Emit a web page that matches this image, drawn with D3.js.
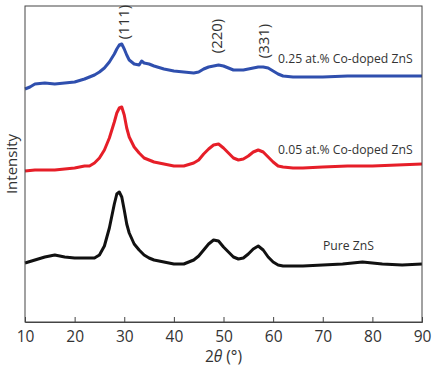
<!DOCTYPE html>
<html><head><meta charset="utf-8">
<script src="https://cdn.jsdelivr.net/npm/d3@7/dist/d3.min.js"></script>
<style>body{margin:0;background:#fff}svg{display:block}</style>
</head><body><svg id="c" width="436" height="369"></svg>
<script>
// 2θ positions and intensities (arbitrary units, offset per pattern)
const blueX = [10,11,12,14,16,18,20,22,24,25,26,27,28,28.5,29,29.5,30,30.5,31,32,33,33.5,34,35,36,38,40,42,44,45,46,47,48,49,50,51,52,53,54,55,56,57,58,59,60,61,62,64,66,70,75,80,85,90];
const blueY = [233,235,238,239,238,239,240,243,247,250,254,260,268,273,277,278,273,267,262,258,257,261,259,258,256,253,251,250,249,250,253,255,256,257,256,254,252,252,252,253,254,255,255,254,251,248,246,245,245,245,246,246,246,246];
const redX = [10,12,14,16,18,20,22,23,24,25,26,27,28,28.5,29,29.5,30,30.5,31,32,33,34,35,36,38,40,42,44,45,46,47,48,49,50,51,52,53,54,55,56,57,58,59,60,61,62,64,66,70,75,80,85,90];
const redY = [151,152,152,152,153,154,156,156,159,164,172,184,200,209,214,215,207,194,185,175,169,164,162,160,158,156,156,159,162,168,173,177,178,174,169,164,162,163,166,170,172,170,165,160,156,155,154,154,155,156,156,157,158];
const blackX = [10,12,14,16,18,20,22,24,25,26,27,28,28.5,29,29.5,30,30.5,31,32,33,34,35,36,38,40,42,44,45,46,47,48,49,50,51,52,53,54,55,56,57,58,59,60,61,62,64,66,70,74,78,82,86,90];
const blackY = [59,62,65,67,65,64,64,64,67,76,94,118,128,130,125,112,98,89,78,72,67,64,62,60,58,58,62,66,72,78,82,81,75,70,65,63,64,68,73,76,72,65,60,57,56,56,56,57,58,60,58,57,58];
const seriesNames = ["0.25 at.% Co-doped ZnS", "0.05 at.% Co-doped ZnS", "Pure ZnS"];
const seriesColors = ["#2f4fae", "#e61e28", "#111111"];
const xTicks = [10,20,30,40,50,60,70,80,90];
const peakLabels = ["(111)", "(220)", "(331)"];
const peakPos = [30, 48.6, 58.1];

const svg = d3.select("#c");
const L = 25, R = 422, T = 6, B = 322;
const x = d3.scaleLinear().domain([10, 90]).range([L, R]);
const y = d3.scaleLinear().domain([0, 316]).range([B, T]);

const series = [
  {xs: blueX, ys: blueY, name: seriesNames[0], color: seriesColors[0], lx: 278, ly: 63},
  {xs: redX, ys: redY, name: seriesNames[1], color: seriesColors[1], lx: 278, ly: 154},
  {xs: blackX, ys: blackY, name: seriesNames[2], color: seriesColors[2], lx: 323, ly: 250}
];
const line = d3.line().x(d => x(d[0])).y(d => y(d[1])).curve(d3.curveLinear);
series.forEach(s => {
  const pts = s.xs.map((v, i) => [v, s.ys[i]]);
  svg.append("path").datum(pts).attr("d", line)
    .attr("fill", "none").attr("stroke", s.color).attr("stroke-width", 3)
    .attr("stroke-linejoin", "round");
  svg.append("text").attr("x", s.lx).attr("y", s.ly).text(s.name)
    .attr("font-family", "Open Sans").attr("font-size", 12.2).attr("fill", "#333");
});

// frame
svg.append("rect").attr("x", L).attr("y", T).attr("width", R - L).attr("height", B - T)
  .attr("fill", "none").attr("stroke", "#444").attr("stroke-width", 1);

const ax = svg.append("g").attr("transform", `translate(0,${B})`)
  .call(d3.axisBottom(x).tickValues(xTicks).tickSize(-5).tickPadding(9).tickFormat(d3.format("d")));
ax.select(".domain").attr("stroke", "#444");
ax.selectAll(".tick line").attr("stroke", "#444");
ax.selectAll(".tick text").attr("font-family", "Open Sans").attr("font-size", 15.5).attr("fill", "#333");

// axis titles
const xt = svg.append("text").attr("x", (L + R) / 2).attr("y", 362).attr("text-anchor", "middle")
  .attr("font-family", "Open Sans").attr("font-size", 15.5).attr("fill", "#333");
xt.append("tspan").text("2");
xt.append("tspan").attr("font-style", "italic").text("θ");
xt.append("tspan").text(" (°)");
svg.append("text").attr("transform", `translate(17,${(T + B) / 2}) rotate(-90)`)
  .attr("text-anchor", "middle").attr("font-family", "Open Sans").attr("font-size", 15)
  .attr("fill", "#333").text("Intensity");

// peak labels
const peakY = [22, 36, 41];
peakLabels.forEach((t, i) => {
  svg.append("text").attr("transform", `translate(${x(peakPos[i]) + 5},${peakY[i]}) rotate(-90)`)
    .attr("text-anchor", "middle").attr("font-family", "Open Sans").attr("font-size", 15)
    .attr("fill", "#333").text(t);
});
</script></body></html>
